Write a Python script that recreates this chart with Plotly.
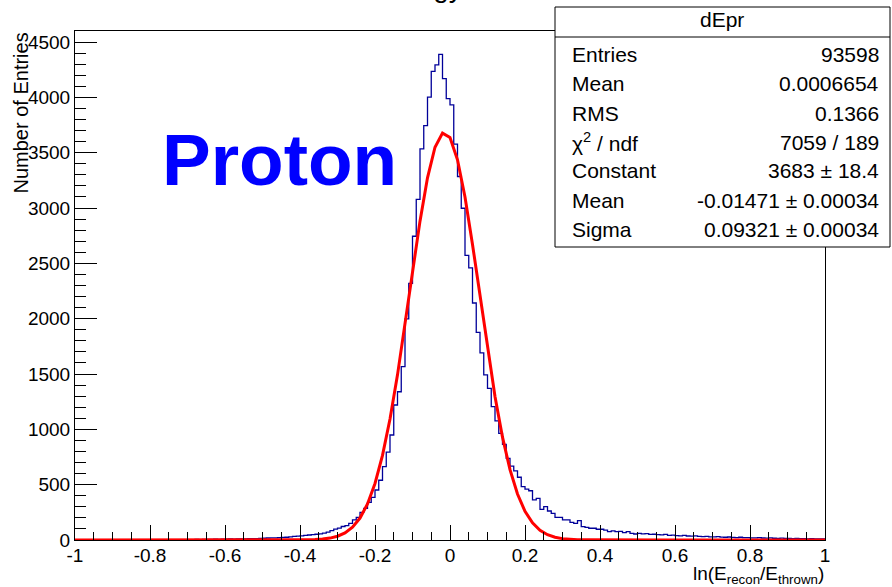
import numpy as np
import plotly.graph_objects as go

# ---------------- data ----------------
bin_lo, bin_hi, n_bins = -1.0, 1.0, 200

counts = [
    # -1.00 .. -0.71
    0, 0, 0, 1, 0, 0, 1, 0, 0, 1, 0, 1, 1, 0, 1, 1, 0, 1, 2, 1,
    1, 2, 1, 2, 2, 1, 3, 2, 3, 3,
    # -0.70 .. -0.51
    4, 3, 5, 4, 5, 6, 5, 7, 6, 7,
    8, 9, 8, 10, 11, 10, 12, 13, 12, 14,
    # -0.50 .. -0.23
    16, 18, 20, 19, 22, 24, 25, 28, 32, 35,
    38, 42, 45, 48, 52, 56, 62, 72, 84, 98,
    108, 122, 130, 151, 181, 205, 250, 285,
    # -0.22 .. -0.01
    340, 385, 452, 540, 663, 795, 949, 1220, 1340, 1567,
    1998, 2320, 2745, 3078, 3535, 3745, 4002, 4235, 4294, 4388,
    4170, 3988,
    # 0.00 .. 0.49
    3932, 3577, 3285, 2998, 2572, 2460, 2142, 1877, 1692, 1492,
    1371, 1205, 1076, 964, 865, 738, 668, 625, 567, 482,
    460, 445, 362, 377, 277, 301, 262, 241, 205, 205,
    181, 181, 160, 151, 175, 120, 115, 106, 106, 97,
    97, 90, 75, 82, 75, 78, 66, 75, 60, 54,
    # 0.50 .. 0.99
    60, 55, 58, 50, 52, 48, 46, 50, 42, 44,
    40, 38, 41, 36, 35, 37, 33, 30, 32, 29,
    28, 30, 26, 25, 27, 24, 22, 25, 21, 22,
    20, 19, 21, 18, 17, 19, 16, 15, 17, 14,
    15, 13, 14, 12, 13, 11, 12, 10, 11, 10,
]

# fit parameters (from the stats box)
fit_constant = 3683.0
fit_mean = -0.01471
fit_sigma = 0.09321
fit_npx = 101

x_tick_vals = [-1, -0.8, -0.6, -0.4, -0.2, 0, 0.2, 0.4, 0.6, 0.8, 1]
x_tick_text = ["-1", "-0.8", "-0.6", "-0.4", "-0.2", "0", "0.2", "0.4", "0.6", "0.8", "1"]
y_tick_vals = [0, 500, 1000, 1500, 2000, 2500, 3000, 3500, 4000, 4500]
y_tick_text = ["0", "500", "1000", "1500", "2000", "2500", "3000", "3500", "4000", "4500"]

stats_title = "dEpr"
stats_labels = ["Entries", "Mean", "RMS", "χ<sup>2</sup> / ndf", "Constant", "Mean", "Sigma"]
stats_values = ["93598", "0.0006654", "0.1366", "7059 / 189", "3683 ± 18.4",
                "-0.01471 ± 0.00034", "0.09321 ± 0.00034"]

# ---------------- figure ----------------
W, H = 892, 587
ML, MR, MT, MB = 75, 67, 31, 47
PW, PH = W - ML - MR, H - MT - MB
FONT = "Liberation Sans, Arial, Helvetica, sans-serif"


def px(xp):
    return (xp - ML) / PW


def py(yp):
    return (H - MB - yp) / PH


edges = np.linspace(bin_lo, bin_hi, n_bins + 1)
hist_y = list(counts) + [counts[-1]]

fx = np.linspace(bin_lo, bin_hi, fit_npx)
fy = fit_constant * np.exp(-0.5 * ((fx - fit_mean) / fit_sigma) ** 2)

fig = go.Figure()
fig.add_trace(go.Scatter(x=edges, y=hist_y, mode="lines", line_shape="hv",
                         line=dict(color="#000099", width=1.3), hoverinfo="skip"))
fig.add_trace(go.Scatter(x=fx, y=fy, mode="lines",
                         line=dict(color="#ff0000", width=3), hoverinfo="skip"))

fig.update_layout(
    width=W, height=H,
    margin=dict(l=ML, r=MR, t=MT, b=MB, pad=0),
    paper_bgcolor="white", plot_bgcolor="white",
    showlegend=False,
    font=dict(family=FONT, size=19, color="black"),
)

fig.update_xaxes(
    range=[-1, 1], tickmode="array", tickvals=x_tick_vals, ticktext=x_tick_text,
    ticks="inside", ticklen=15, tickwidth=1, tickcolor="black",
    showline=True, linecolor="black", linewidth=1, mirror=True,
    showgrid=False, zeroline=False, ticklabelstandoff=-2,
    tickfont=dict(family=FONT, size=19, color="black"),
    minor=dict(ticks="inside", ticklen=8, tickwidth=1, tickcolor="black",
               tickmode="linear", tick0=-1, dtick=0.05, showgrid=False),
)
fig.update_yaxes(
    range=[0, 4600], tickmode="array", tickvals=y_tick_vals, ticktext=y_tick_text,
    ticks="inside", ticklen=22, tickwidth=1, tickcolor="black",
    showline=True, linecolor="black", linewidth=1, mirror=True,
    showgrid=False, zeroline=False,
    tickfont=dict(family=FONT, size=19, color="black"),
    minor=dict(ticks="inside", ticklen=11, tickwidth=1, tickcolor="black",
               tickmode="linear", tick0=0, dtick=100, showgrid=False),
)

ann = []
# axis titles
ann.append(dict(text="Number of Entries", xref="paper", yref="paper",
                x=px(20), y=py(31), xanchor="center", yanchor="top", textangle=-90,
                showarrow=False, font=dict(family=FONT, size=20, color="black")))
ann.append(dict(text="ln(E<sub>recon</sub>/E<sub>thrown</sub>)", xref="paper", yref="paper",
                x=px(826), y=py(589), xanchor="right", yanchor="bottom",
                showarrow=False, font=dict(family=FONT, size=19, color="black")))
# big label
ann.append(dict(text="<b>Proton</b>", xref="paper", yref="paper",
                x=px(160), y=py(159), xanchor="left", yanchor="middle",
                showarrow=False, font=dict(family=FONT, size=73, color="#0000ff")))
# partly hidden title
ann.append(dict(text="Energy", xref="paper", yref="paper",
                x=px(418), y=py(5), xanchor="center", yanchor="bottom",
                showarrow=False, font=dict(family=FONT, size=28, color="black")))

# stats box
shapes = [
    dict(type="rect", xref="paper", yref="paper", x0=px(555), x1=px(890),
         y0=py(247), y1=py(7), fillcolor="white", line=dict(color="black", width=1),
         layer="above"),
    dict(type="line", xref="paper", yref="paper", x0=px(555), x1=px(890),
         y0=py(37), y1=py(37), line=dict(color="black", width=1), layer="above"),
]
ann.append(dict(text=stats_title, xref="paper", yref="paper", x=px(722), y=py(19),
                xanchor="center", yanchor="middle", showarrow=False,
                font=dict(family=FONT, size=21, color="black")))
row_y = [54, 84, 113, 142, 171, 200, 229]
for lab, val, yy in zip(stats_labels, stats_values, row_y):
    ann.append(dict(text=lab, xref="paper", yref="paper", x=px(570), y=py(yy),
                    xanchor="left", yanchor="middle", showarrow=False,
                    font=dict(family=FONT, size=21, color="black")))
    ann.append(dict(text=val, xref="paper", yref="paper", x=px(881), y=py(yy),
                    xanchor="right", yanchor="middle", showarrow=False,
                    font=dict(family=FONT, size=21, color="black")))

fig.update_layout(annotations=ann, shapes=shapes)
fig.write_html("out.html")
